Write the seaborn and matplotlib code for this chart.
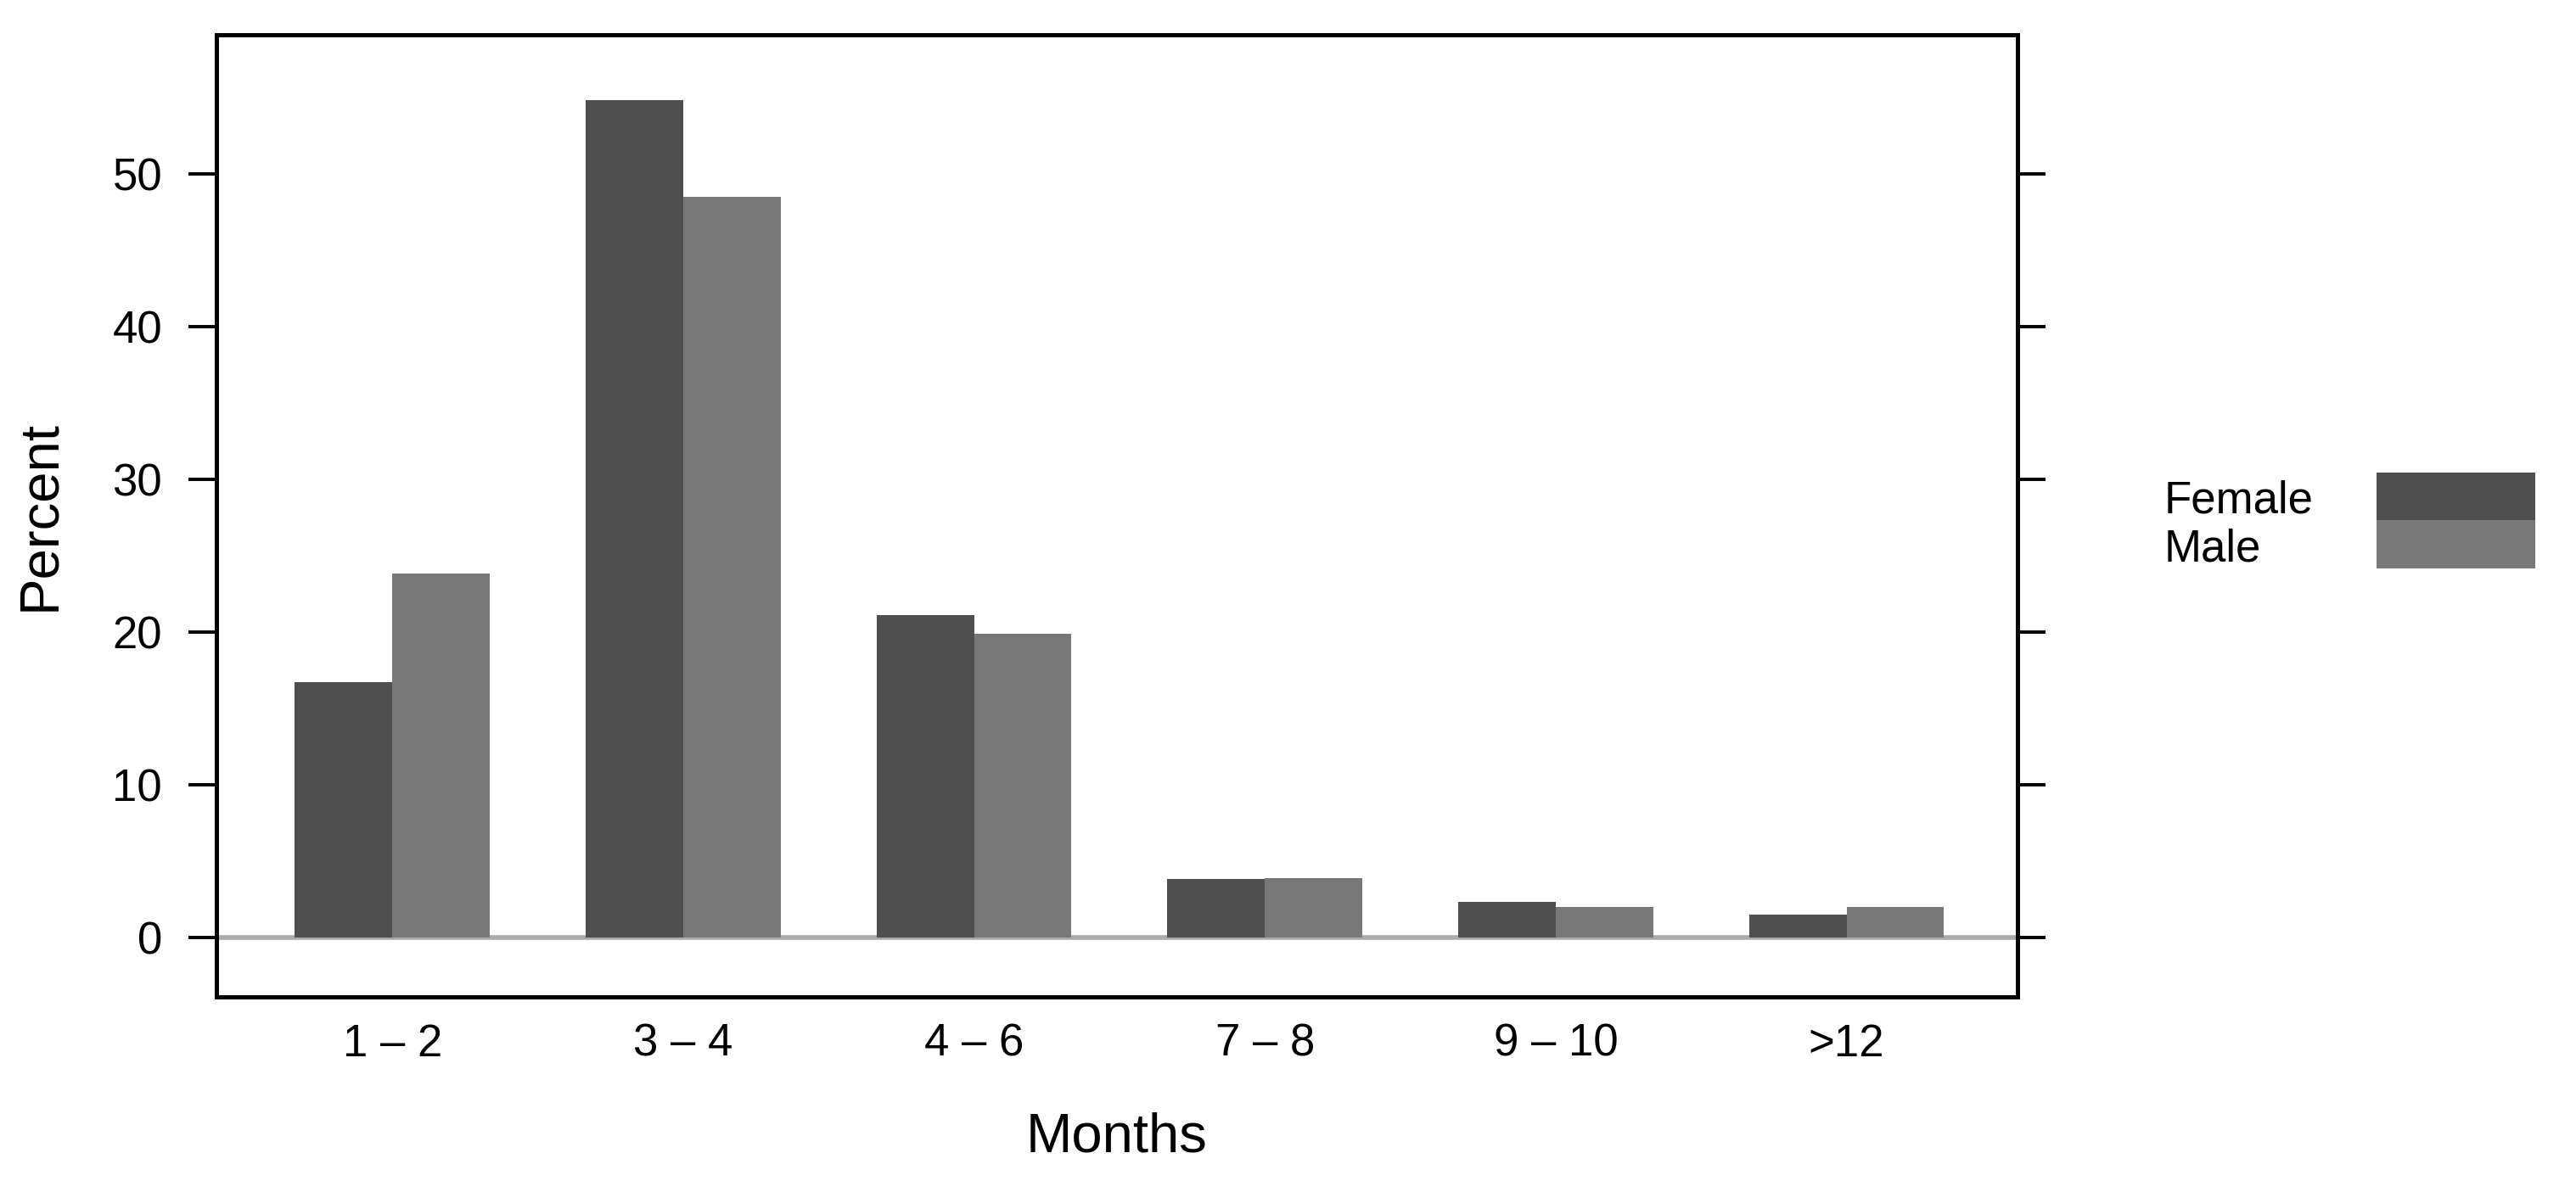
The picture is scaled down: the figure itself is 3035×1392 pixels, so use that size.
import matplotlib
matplotlib.use("Agg")
import matplotlib.pyplot as plt
import pandas as pd
import seaborn as sns
from matplotlib.patches import Patch

# values
months = ["1 – 2", "3 – 4", "4 – 6", "7 – 8", "9 – 10", ">12"]
female = [16.7, 54.8, 21.1, 3.8, 2.3, 1.5]
male = [23.8, 48.5, 19.9, 3.9, 2.0, 2.0]
sexes = ["Female", "Male"]
colors = ["#4f4f4f", "#787878"]
yticks = [0, 10, 20, 30, 40, 50]

df = pd.DataFrame({
    "Months": months * 2,
    "Percent": female + male,
    "Sex": [sexes[0]] * len(months) + [sexes[1]] * len(months),
})

sns.set_style("ticks")
plt.rcParams["font.family"] = ["Liberation Sans", "DejaVu Sans"]
plt.rcParams["text.color"] = "black"
plt.rcParams["axes.labelcolor"] = "black"

fig = plt.figure(figsize=(30.35, 13.92), dpi=100)
ax = fig.add_axes([0.0840, 0.1559, 0.6992, 0.8146])

sns.barplot(data=df, x="Months", y="Percent", hue="Sex", hue_order=sexes,
            palette=colors, width=0.67, saturation=1, linewidth=0,
            legend=False, ax=ax)
ax.axhline(0, color="#aaaaaa", lw=4, zorder=0.5)

ax.set_xlim(-0.605, 5.588)
ax.set_ylim(-3.9, 59.1)
ax.set_yticks(yticks)

for s in ax.spines.values():
    s.set_visible(True)
    s.set_color("black")
    s.set_linewidth(3.6)

ax.tick_params(axis="y", left=True, right=True, direction="out",
               length=24, width=2.8, labelsize=38, pad=22, colors="black")
ax.tick_params(axis="x", length=0, labelsize=38, pad=22, colors="black")

ax.set_xlabel("Months", fontsize=47)
ax.set_ylabel("Percent", fontsize=47)
ax.xaxis.set_label_coords(0.5, -0.1195)
ax.yaxis.set_label_coords(-0.0836, 0.5)

# legend: stacked swatches with labels on the left
handles = [Patch(facecolor=c, edgecolor="none") for c in colors]
fig.legend(handles, ["", ""], loc="upper left",
           bbox_to_anchor=(0.9226, 0.5999), bbox_transform=fig.transFigure,
           frameon=False, fontsize=10, handlelength=13.46, handleheight=5.88,
           labelspacing=0, handletextpad=0, borderpad=0, borderaxespad=0)
fig.text(0.8400, 0.5654, sexes[0], fontsize=38, va="baseline", ha="left")
fig.text(0.8400, 0.5247, sexes[1], fontsize=38, va="baseline", ha="left")

fig.savefig("out.png", dpi=100, facecolor="white")
